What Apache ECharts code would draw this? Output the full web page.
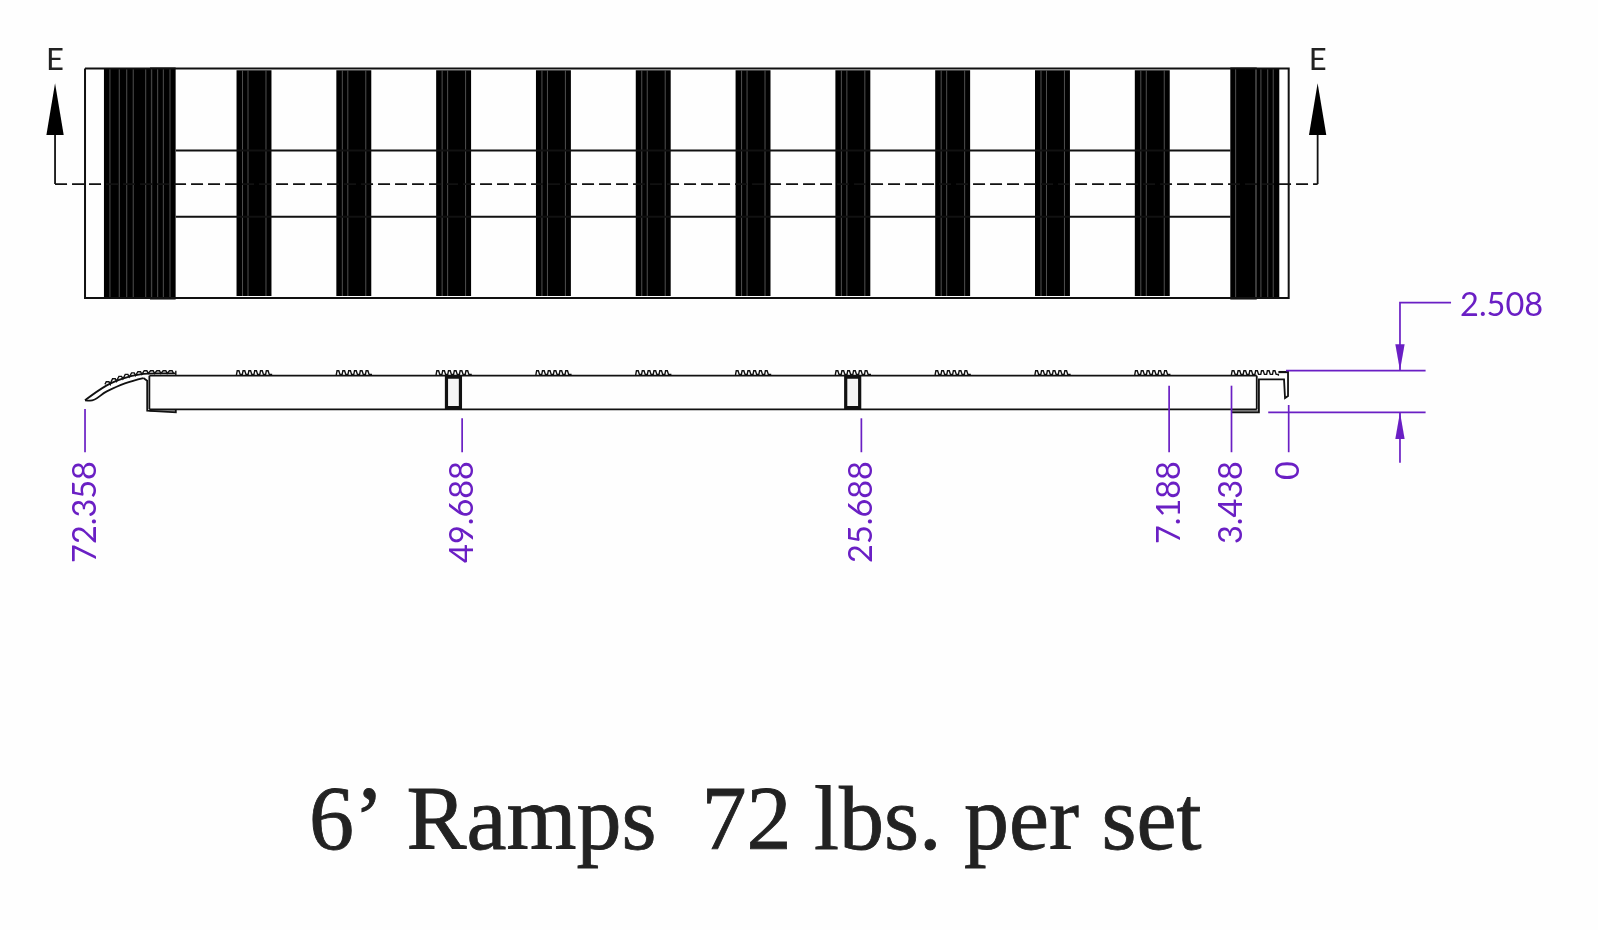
<!DOCTYPE html>
<html><head><meta charset="utf-8">
<style>html,body{margin:0;padding:0;background:#fefefe}#c{width:1598px;height:930px}</style>
<script src="https://cdn.jsdelivr.net/npm/echarts@6/dist/echarts.min.js"></script>
</head><body><div id="c"></div>
<script>
// All drawing values are in inches, measured from the right end of the ramp (x) and its underside (y).
const titleText = "6’ Ramps  72 lbs. per set";
const dimensionValues = [72.358, 49.688, 25.688, 7.188, 3.438, 0];
const dimensionLabels = ["72.358", "49.688", "25.688", "7.188", "3.438", "0"];
const dimensionLineTop = [0.2, -0.36, -0.36, 1.6, 1.6, 0.44];
const heightValue = 2.508;
const heightLabel = "2.508";
const sectionMark = "E";
const sectionX = [74.16, -1.74];
const treadFarEdge = [63.25, 57.25, 51.25, 45.25, 39.25, 33.25, 27.25, 21.25, 15.25, 9.25];
const treadWidth = 2.1;
const treadStripeOffsets = [0.36, 0.69, 1.77];
const postFarEdge = [50.73, 26.73];
const postWidth = 1.04;
const leftBlockStripes = [70.86, 70.30, 69.85, 69.46, 68.71, 68.35, 67.99, 67.65, 67.25];
const rightBlockStripes = [3.19, 1.98, 1.67, 1.26, 0.93];
const planOutlineX = [72.358, 0, 0, 72.358, 72.358];
const planOutlineY = [20.67, 20.67, 6.87, 6.87, 20.67];
const railY = [15.74, 11.76];
const sectionLineY = 13.72;
const noseUpperX = [72.36, 71.05, 70.05, 69.05, 68.0, 66.9];
const noseUpperY = [0.72, 1.62, 2.04, 2.28, 2.34, 2.34];
const noseLowerX = [72.36, 72.06, 71.05, 69.96, 68.85];
const noseLowerY = [0.72, 0.70, 1.26, 1.74, 2.06];
const noseWallX = [68.85, 68.62, 68.62, 68.62, 66.9, 66.9];
const noseWallY = [2.06, 1.9, 0.1, 0, 0, 0.18];
const noseToothX = [71.0, 70.62, 70.24, 69.86, 69.48, 69.1, 68.72, 68.34, 67.96, 67.58, 67.2];
const noseToothY = [1.84, 2.02, 2.16, 2.28, 2.37, 2.44, 2.5, 2.5, 2.5, 2.5, 2.5];
const hookX = [0.04, 0.04, 0.1, 0.22, 0.28, 0.28, 1.79, 1.79, 3.44];
const hookY = [2.5, 0.98, 0.86, 0.86, 0.98, 1.98, 1.98, 0, 0];

const axisXMin = -18.594, axisXMax = 77.469, axisYMin = -31.12, axisYMax = 24.785;
const ink = '#111', purple = '#6a1fc4';

function lineS(name, xs, ys, width, color, extra) {
  return Object.assign({
    name, type: 'line', data: xs.map((x, i) => [x, ys[i]]), symbol: 'none', clip: false, silent: true,
    lineStyle: { color: color || ink, width: width || 1.8, join: 'miter', cap: 'butt' }
  }, extra || {});
}
function rectS(name, rows, fill, stroke, lw) {
  return {
    name, type: 'custom', silent: true, clip: false, data: rows, encode: { x: [0, 1], y: [2, 3] },
    renderItem(p, api) {
      const a = api.coord([api.value(0), api.value(2)]), b = api.coord([api.value(1), api.value(3)]);
      return { type: 'rect', shape: { x: a[0], y: a[1], width: b[0] - a[0], height: b[1] - a[1] },
        style: { fill, stroke: stroke || null, lineWidth: lw || 0 } };
    }
  };
}
function stripeS(name, rows) {
  return {
    name, type: 'custom', silent: true, clip: false, data: rows, encode: { x: 0, y: [1, 2] },
    renderItem(p, api) {
      const a = api.coord([api.value(0), api.value(1)]), b = api.coord([api.value(0), api.value(2)]);
      return { type: 'line', shape: { x1: a[0], y1: a[1], x2: b[0], y2: b[1] }, style: { stroke: '#585858', lineWidth: 0.9 } };
    }
  };
}
function bumpS(name, rows) {
  return {
    name, type: 'custom', silent: true, clip: false, data: rows, encode: { x: [0, 1], y: 2 },
    renderItem(p, api) {
      const x0 = api.value(0), x1 = api.value(1), base = api.value(2), top = api.value(3), n = api.value(4), foot = api.value(5);
      const pts = [api.coord([x0, foot]), api.coord([x0, base])];
      const w = (x0 - x1) / n;
      for (let i = 0; i < n; i++) {
        const s = x0 - i * w;
        pts.push(api.coord([s - w * 0.12, top]), api.coord([s - w * 0.42, top]), api.coord([s - w * 0.62, base]), api.coord([s - w, base]));
      }
      pts.push(api.coord([x1, foot]));
      return { type: 'polyline', shape: { points: pts }, style: { fill: null, stroke: ink, lineWidth: 1.4 } };
    }
  };
}
function arrowS(name, rows, fill) {
  return {
    name, type: 'custom', silent: true, clip: false, data: rows, encode: { x: 0, y: [1, 2] },
    renderItem(p, api) {
      const x = api.value(0), t = api.value(1), b = api.value(2), h = api.value(3);
      return { type: 'polygon', shape: { points: [api.coord([x, t]), api.coord([x - h, b]), api.coord([x + h, b])] }, style: { fill } };
    }
  };
}
function textS(name, rows, texts, opt) {
  return {
    name, type: 'custom', silent: true, clip: false, data: rows, encode: { x: 0, y: 1 },
    renderItem(p, api) {
      const c = api.coord([api.value(0), api.value(1)]);
      return { type: 'text', x: c[0], y: c[1], rotation: opt.rotation || 0,
        style: { text: texts[p.dataIndex], fontFamily: 'Lato', fontWeight: 400, fontSize: opt.size, fill: opt.fill,
          align: opt.align, verticalAlign: 'middle' } };
    }
  };
}

const PLAN_TOP = 20.73, PLAN_BOT = 6.78, TREAD_TOP = 20.56, TREAD_BOT = 6.99;
const series = [];
series.push(lineS('Plan outline', planOutlineX, planOutlineY, 2));
railY.forEach((y, i) => series.push(lineS('Rail ' + i, [66.9, 3.5], [y, y], 2)));
series.push(lineS('Section line', [sectionX[0], sectionX[1]], [sectionLineY, sectionLineY], 1.8, ink,
  { lineStyle: { color: ink, width: 1.8, type: [12, 5] } }));
sectionX.forEach((x, i) => series.push(lineS('Section leg ' + i, [x, x], [sectionLineY, 16.67], 1.8)));
series.push(arrowS('Section arrows', sectionX.map(x => [x, 19.78, 16.67, 0.52]), '#000'));
series.push(rectS('Treads', treadFarEdge.map(f => [f, f - treadWidth, TREAD_TOP, TREAD_BOT]), '#000'));
series.push(rectS('End blocks', [
  [71.22, 68.45, 20.67, 6.85], [68.45, 66.91, PLAN_TOP, PLAN_BOT],
  [3.51, 1.92, PLAN_TOP, PLAN_BOT], [1.92, 0.565, 20.67, 6.85]], '#000'));
const stripes = [];
treadFarEdge.forEach(f => treadStripeOffsets.forEach(o => stripes.push([f - o, TREAD_TOP, TREAD_BOT])));
leftBlockStripes.concat(rightBlockStripes).forEach(x => stripes.push([x, 20.67, 6.87]));
series.push(stripeS('Tread grooves', stripes));
series.push(textS('Section marks', sectionX.map(x => [x, 21.2]), [sectionMark, sectionMark],
  { size: 31, fill: '#222', align: 'center' }));

// side view
series.push(lineS('Rail top', [68.49, 1.92], [2.2, 2.2], 1.8));
series.push(lineS('Rail bottom', [68.49, 1.92], [0.18, 0.18], 1.8));
series.push(lineS('Left wall', [68.49, 68.49], [2.2, 0.18], 1.8));
series.push(lineS('Right wall', [1.92, 1.92], [2.2, 0.18], 1.8));
series.push(rectS('Channel fill', [[68.49, 66.9, 0.16, 0.02], [3.44, 1.79, 0.16, 0.02]], '#9a9a9a'));
series.push(lineS('Nose upper', noseUpperX, noseUpperY, 1.8, ink, { smooth: 0.4 }));
series.push(lineS('Nose lower', noseLowerX, noseLowerY, 1.8, ink, { smooth: 0.4 }));
series.push(lineS('Nose wall', noseWallX, noseWallY, 1.8));
const toothX = [], toothY = [];
noseToothX.forEach((x, i) => { toothX.push(x + 0.16, x + 0.08, x - 0.08, x - 0.16); toothY.push(noseToothY[i] - 0.16, noseToothY[i], noseToothY[i], noseToothY[i] - 0.16); });
series.push(lineS('Nose teeth', toothX, toothY, 1.4));
series.push(lineS('Nose end', [66.9, 66.9], [2.5, 2.2], 1.4));
series.push(bumpS('Tread bumps', treadFarEdge.map(f => [f, f - treadWidth, 2.28, 2.5, 6, 2.2])));
series.push(bumpS('End bumps', [[3.44, 0.62, 2.28, 2.5, 8, 2.2]]));
series.push(lineS('Cap top', [0.62, 0.04], [2.42, 2.42], 2.2));
series.push(lineS('Cap hook', hookX, hookY, 1.8));
series.push(rectS('Posts', postFarEdge.map(f => [f - 0.1, f - postWidth + 0.1, 2.12, 0.28]), '#f4f4f4', '#111', 3.2));

// dimensions
dimensionValues.forEach((v, i) => series.push(lineS('Dim ' + dimensionLabels[i], [v, v], [dimensionLineTop[i], -2.4], 1.7, purple)));
series.push(textS('Dim labels', dimensionValues.map(v => [v, -2.93]), dimensionLabels,
  { size: 32.5, fill: purple, align: 'right', rotation: Math.PI / 2 }));
series.push(lineS('Height top', [0.16, -8.23], [heightValue, heightValue], 1.7, purple));
series.push(lineS('Height bottom', [1.23, -8.23], [0, 0], 1.7, purple));
series.push(lineS('Height leader', [-9.76, -6.69, -6.69], [6.59, 6.59, heightValue], 1.7, purple));
series.push(lineS('Height lower', [-6.69, -6.69], [0, -3.03], 1.7, purple));
series.push(arrowS('Height arrows', [[-6.69, heightValue, 4.09, 0.28], [-6.69, 0, -1.6, 0.28]], purple));
series.push(textS('Height label', [[-10.30, 6.40]], [heightLabel], { size: 32.5, fill: purple, align: 'left' }));

const chart = echarts.init(document.getElementById('c'), null, { renderer: 'canvas' });
chart.setOption({
  animation: false,
  backgroundColor: '#fefefe',
  title: { text: titleText, left: 309, top: 780, padding: 0,
    textStyle: { fontFamily: 'Liberation Serif', fontWeight: 'normal', fontSize: 90, color: '#222',
      textBorderColor: '#222', textBorderWidth: 0.8 } },
  grid: { left: 0, right: 0, top: 0, bottom: 0, containLabel: false },
  xAxis: { type: 'value', min: axisXMin, max: axisXMax, inverse: true, show: false, splitLine: { show: false } },
  yAxis: { type: 'value', min: axisYMin, max: axisYMax, show: false, splitLine: { show: false } },
  tooltip: { show: false },
  series
});
</script></body></html>
